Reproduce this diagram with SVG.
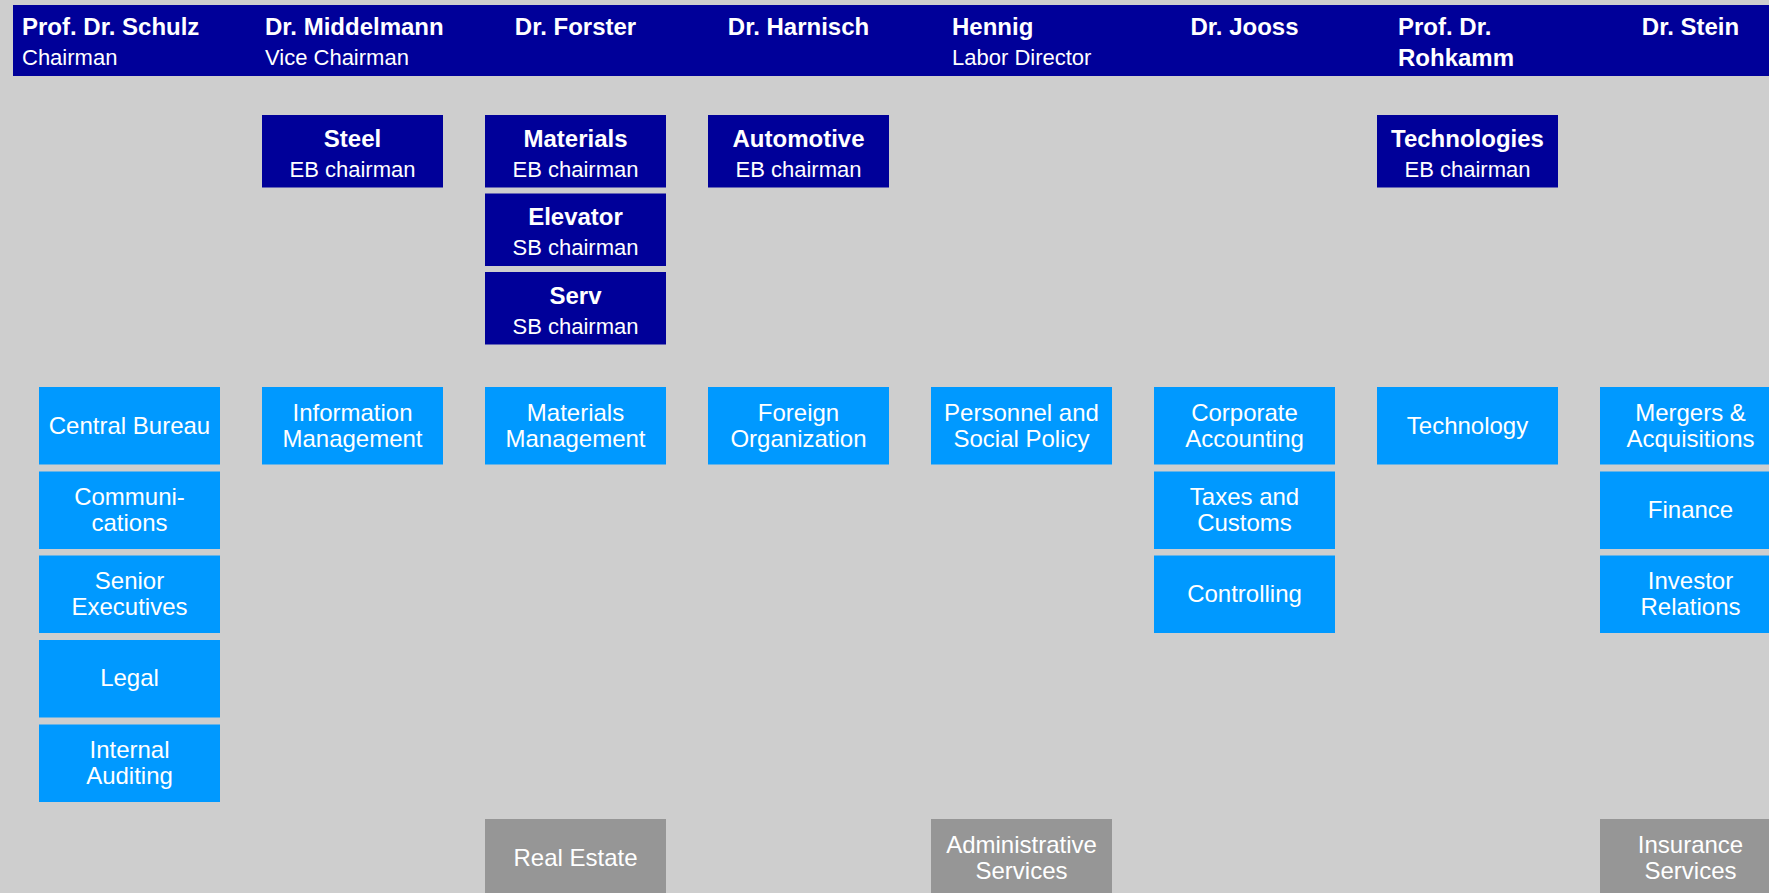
<svg xmlns="http://www.w3.org/2000/svg" width="1769" height="893" viewBox="0 0 1769 893">
<style>
.bg{fill:#CECECE}
.hdr{fill:#000099}
.dk{fill:#000099}
.lt{fill:#0099FF}
.gr{fill:#969696}
text{font-family:"Liberation Sans",Arial,sans-serif;fill:#FFFFFF}
.b{font-weight:bold;font-size:24px}
.s{font-size:22px}
.c{text-anchor:middle}
.t{font-size:24px;text-anchor:middle}
</style>
<rect class="bg" x="0" y="0" width="1769" height="893"/>
<rect class="hdr" x="13" y="5" width="1756" height="71"/>
<g id="board">
<g id="schulz"><text class="b" x="22" y="35">Prof. Dr. Schulz</text><text class="s" x="22" y="65">Chairman</text></g>
<g id="middelmann"><text class="b" x="265" y="35">Dr. Middelmann</text><text class="s" x="265" y="65">Vice Chairman</text></g>
<g id="forster"><text class="b c" x="575.5" y="35">Dr. Forster</text></g>
<g id="harnisch"><text class="b c" x="798.5" y="35">Dr. Harnisch</text></g>
<g id="hennig"><text class="b" x="952" y="35">Hennig</text><text class="s" x="952" y="65">Labor Director</text></g>
<g id="jooss"><text class="b c" x="1244.5" y="35">Dr. Jooss</text></g>
<g id="rohkamm"><text class="b" x="1398" y="35">Prof. Dr.</text><text class="b" x="1398" y="66">Rohkamm</text></g>
<g id="stein"><text class="b c" x="1690.5" y="35">Dr. Stein</text></g>
</g>
<g id="connectors"/>
<g id="steel"><rect class="dk" x="262" y="115" width="181" height="72.5"/><text class="b c" x="352.5" y="147">Steel</text><text class="s c" x="352.5" y="177">EB chairman</text></g>
<g id="materials"><rect class="dk" x="485" y="115" width="181" height="72.5"/><text class="b c" x="575.5" y="147">Materials</text><text class="s c" x="575.5" y="177">EB chairman</text></g>
<g id="elevator"><rect class="dk" x="485" y="193.5" width="181" height="72.5"/><text class="b c" x="575.5" y="225">Elevator</text><text class="s c" x="575.5" y="255">SB chairman</text></g>
<g id="serv"><rect class="dk" x="485" y="272" width="181" height="72.5"/><text class="b c" x="575.5" y="303.5">Serv</text><text class="s c" x="575.5" y="333.5">SB chairman</text></g>
<g id="automotive"><rect class="dk" x="708" y="115" width="181" height="72.5"/><text class="b c" x="798.5" y="147">Automotive</text><text class="s c" x="798.5" y="177">EB chairman</text></g>
<g id="technologies"><rect class="dk" x="1377" y="115" width="181" height="72.5"/><text class="b c" x="1467.5" y="147">Technologies</text><text class="s c" x="1467.5" y="177">EB chairman</text></g>

<g id="central-bureau"><rect class="lt" x="39" y="387" width="181" height="77.5"/><text class="t" x="129.5" y="434">Central Bureau</text></g>
<g id="communications"><rect class="lt" x="39" y="471.5" width="181" height="77.5"/><text class="t" x="129.5" y="505">Communi-</text><text class="t" x="129.5" y="531">cations</text></g>
<g id="senior-executives"><rect class="lt" x="39" y="555.5" width="181" height="77.5"/><text class="t" x="129.5" y="589">Senior</text><text class="t" x="129.5" y="615">Executives</text></g>
<g id="legal"><rect class="lt" x="39" y="640" width="181" height="77.5"/><text class="t" x="129.5" y="686">Legal</text></g>
<g id="internal-auditing"><rect class="lt" x="39" y="724.5" width="181" height="77.5"/><text class="t" x="129.5" y="758">Internal</text><text class="t" x="129.5" y="784">Auditing</text></g>
<g id="information-management"><rect class="lt" x="262" y="387" width="181" height="77.5"/><text class="t" x="352.5" y="420.5">Information</text><text class="t" x="352.5" y="446.5">Management</text></g>
<g id="materials-management"><rect class="lt" x="485" y="387" width="181" height="77.5"/><text class="t" x="575.5" y="420.5">Materials</text><text class="t" x="575.5" y="446.5">Management</text></g>
<g id="foreign-organization"><rect class="lt" x="708" y="387" width="181" height="77.5"/><text class="t" x="798.5" y="420.5">Foreign</text><text class="t" x="798.5" y="446.5">Organization</text></g>
<g id="personnel"><rect class="lt" x="931" y="387" width="181" height="77.5"/><text class="t" x="1021.5" y="420.5">Personnel and</text><text class="t" x="1021.5" y="446.5">Social Policy</text></g>
<g id="corporate-accounting"><rect class="lt" x="1154" y="387" width="181" height="77.5"/><text class="t" x="1244.5" y="420.5">Corporate</text><text class="t" x="1244.5" y="446.5">Accounting</text></g>
<g id="taxes-customs"><rect class="lt" x="1154" y="471.5" width="181" height="77.5"/><text class="t" x="1244.5" y="505">Taxes and</text><text class="t" x="1244.5" y="531">Customs</text></g>
<g id="controlling"><rect class="lt" x="1154" y="555.5" width="181" height="77.5"/><text class="t" x="1244.5" y="602">Controlling</text></g>
<g id="technology"><rect class="lt" x="1377" y="387" width="181" height="77.5"/><text class="t" x="1467.5" y="434">Technology</text></g>
<g id="mergers"><rect class="lt" x="1600" y="387" width="181" height="77.5"/><text class="t" x="1690.5" y="420.5">Mergers &amp;</text><text class="t" x="1690.5" y="446.5">Acquisitions</text></g>
<g id="finance"><rect class="lt" x="1600" y="471.5" width="181" height="77.5"/><text class="t" x="1690.5" y="518">Finance</text></g>
<g id="investor-relations"><rect class="lt" x="1600" y="555.5" width="181" height="77.5"/><text class="t" x="1690.5" y="589">Investor</text><text class="t" x="1690.5" y="615">Relations</text></g>

<g id="real-estate"><rect class="gr" x="485" y="819" width="181" height="77.5"/><text class="t" x="575.5" y="866">Real Estate</text></g>
<g id="administrative-services"><rect class="gr" x="931" y="819" width="181" height="77.5"/><text class="t" x="1021.5" y="852.5">Administrative</text><text class="t" x="1021.5" y="878.5">Services</text></g>
<g id="insurance-services"><rect class="gr" x="1600" y="819" width="181" height="77.5"/><text class="t" x="1690.5" y="852.5">Insurance</text><text class="t" x="1690.5" y="878.5">Services</text></g>
</svg>
